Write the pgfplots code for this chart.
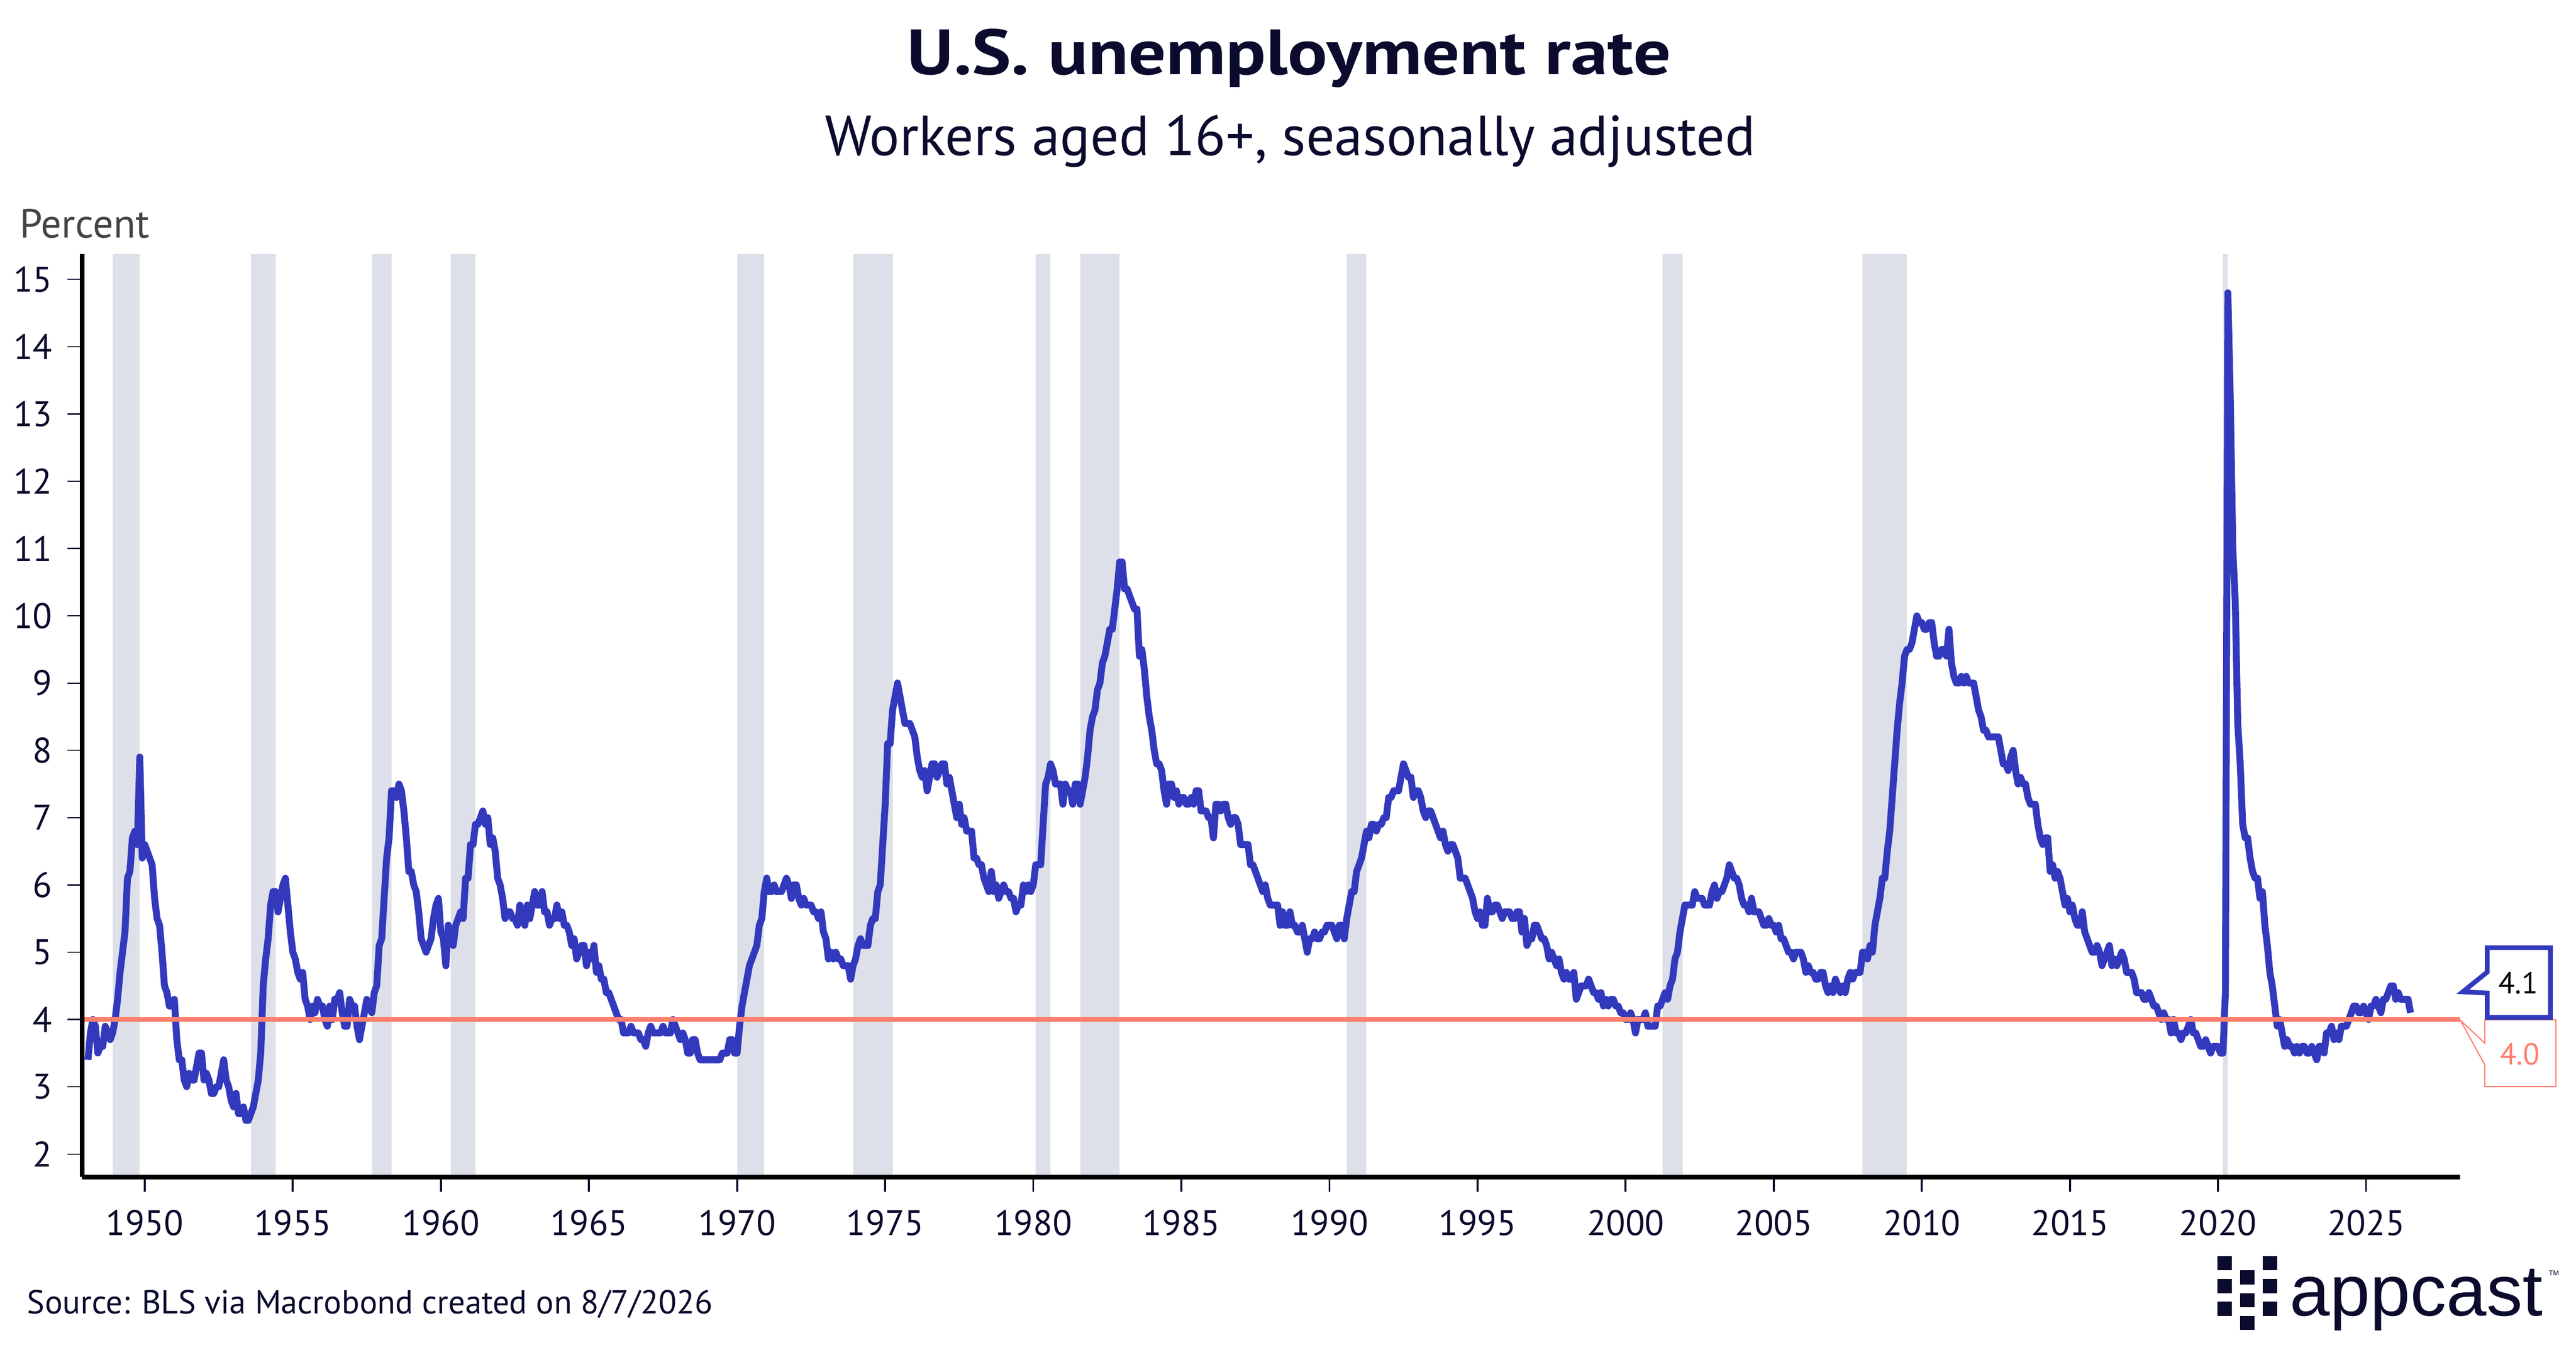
\documentclass[border=0pt]{standalone}
\usepackage{fontspec}
\setmainfont{PT Sans}
\newfontfamily\logofont{Liberation Sans}
\usepackage{pgfplots}
\pgfplotsset{compat=1.18}
\definecolor{navy}{HTML}{0A0B2D}
\definecolor{txtgray}{HTML}{444444}
\definecolor{lineblue}{HTML}{3339BD}
\definecolor{salmon}{HTML}{FF7F6E}
\definecolor{recess}{HTML}{DDE0E8}
\begin{document}
\begin{tikzpicture}[x=1bp,y=1bp]
\path[use as bounding box] (0,0) rectangle (652.5,341.8);
% titles
\node[anchor=base,inner sep=0pt,text=navy,font=\bfseries\fontsize{16.2bp}{18bp}\selectfont] at (326.5,323.0) {\scalebox{1.16}[1]{U.S. unemployment rate}};
\node[anchor=base,inner sep=0pt,text=navy,font=\fontsize{14.3bp}{17bp}\selectfont] at (326.8,302.5) {Workers aged 16+, seasonally adjusted};
\node[anchor=base west,inner sep=0pt,text=txtgray,font=\fontsize{10.3bp}{12bp}\selectfont] at (4.8,281.6) {Percent};
\node[anchor=base west,inner sep=0pt,text=navy,font=\fontsize{8.4bp}{10bp}\selectfont] at (6.7,9.1) {Source: BLS via Macrobond created on 8/7/2026};
\begin{axis}[
  at={(20.8bp,43.7bp)}, anchor=south west,
  scale only axis, width=602.3bp, height=233.8bp,
  xmin=1947.886, xmax=2028.17, ymin=1.658, ymax=15.38,
  axis x line*=bottom, axis y line*=left,
  axis line style={line width=1.1bp, black},
  axis on top,
  xtick={1950,1955,...,2025}, ytick={2,3,...,15},
  tick align=outside, major tick length=3.75bp,
  xtick style={line width=0.5bp, navy},
  ytick style={line width=0.3bp, navy},
  scaled ticks=false,
  /pgf/number format/assume math mode=true,
  /pgf/number format/1000 sep={},
  ticklabel style={font=\fontsize{9bp}{10bp}\selectfont, text=navy, inner sep=0pt},
  yticklabel style={xshift=-3.65bp},
  xticklabel style={yshift=-4.45bp},
  clip=false,
]
% recession shading
\addplot[fill=recess,draw=none] coordinates {(1948.917,1.658)(1949.833,1.658)(1949.833,15.38)(1948.917,15.38)} -- cycle;
\addplot[fill=recess,draw=none] coordinates {(1953.583,1.658)(1954.417,1.658)(1954.417,15.38)(1953.583,15.38)} -- cycle;
\addplot[fill=recess,draw=none] coordinates {(1957.667,1.658)(1958.333,1.658)(1958.333,15.38)(1957.667,15.38)} -- cycle;
\addplot[fill=recess,draw=none] coordinates {(1960.333,1.658)(1961.167,1.658)(1961.167,15.38)(1960.333,15.38)} -- cycle;
\addplot[fill=recess,draw=none] coordinates {(1970.0,1.658)(1970.917,1.658)(1970.917,15.38)(1970.0,15.38)} -- cycle;
\addplot[fill=recess,draw=none] coordinates {(1973.917,1.658)(1975.25,1.658)(1975.25,15.38)(1973.917,15.38)} -- cycle;
\addplot[fill=recess,draw=none] coordinates {(1980.083,1.658)(1980.583,1.658)(1980.583,15.38)(1980.083,15.38)} -- cycle;
\addplot[fill=recess,draw=none] coordinates {(1981.583,1.658)(1982.917,1.658)(1982.917,15.38)(1981.583,15.38)} -- cycle;
\addplot[fill=recess,draw=none] coordinates {(1990.583,1.658)(1991.25,1.658)(1991.25,15.38)(1990.583,15.38)} -- cycle;
\addplot[fill=recess,draw=none] coordinates {(2001.25,1.658)(2001.917,1.658)(2001.917,15.38)(2001.25,15.38)} -- cycle;
\addplot[fill=recess,draw=none] coordinates {(2008.0,1.658)(2009.5,1.658)(2009.5,15.38)(2008.0,15.38)} -- cycle;
\addplot[fill=recess,draw=none] coordinates {(2020.167,1.658)(2020.333,1.658)(2020.333,15.38)(2020.167,15.38)} -- cycle;
% unemployment rate, monthly from Jan 1948
\addplot[lineblue, line width=1.75bp, line join=round, line cap=butt, mark=none]
 table[row sep=\\, x expr={1948+(\coordindex+1)/12}, y index=0] {
u\\
3.4\\3.8\\4.0\\3.9\\3.5\\3.6\\3.6\\3.9\\3.8\\3.7\\3.8\\4.0\\
4.3\\4.7\\5.0\\5.3\\6.1\\6.2\\6.7\\6.8\\6.6\\7.9\\6.4\\6.6\\
6.5\\6.4\\6.3\\5.8\\5.5\\5.4\\5.0\\4.5\\4.4\\4.2\\4.2\\4.3\\
3.7\\3.4\\3.4\\3.1\\3.0\\3.2\\3.1\\3.1\\3.3\\3.5\\3.5\\3.1\\
3.2\\3.1\\2.9\\2.9\\3.0\\3.0\\3.2\\3.4\\3.1\\3.0\\2.8\\2.7\\
2.9\\2.6\\2.6\\2.7\\2.5\\2.5\\2.6\\2.7\\2.9\\3.1\\3.5\\4.5\\
4.9\\5.2\\5.7\\5.9\\5.9\\5.6\\5.8\\6.0\\6.1\\5.7\\5.3\\5.0\\
4.9\\4.7\\4.6\\4.7\\4.3\\4.2\\4.0\\4.2\\4.1\\4.3\\4.2\\4.2\\
4.0\\3.9\\4.2\\4.0\\4.3\\4.3\\4.4\\4.1\\3.9\\3.9\\4.3\\4.2\\
4.2\\3.9\\3.7\\3.9\\4.1\\4.3\\4.2\\4.1\\4.4\\4.5\\5.1\\5.2\\
5.8\\6.4\\6.7\\7.4\\7.4\\7.3\\7.5\\7.4\\7.1\\6.7\\6.2\\6.2\\
6.0\\5.9\\5.6\\5.2\\5.1\\5.0\\5.1\\5.2\\5.5\\5.7\\5.8\\5.3\\
5.2\\4.8\\5.4\\5.2\\5.1\\5.4\\5.5\\5.6\\5.5\\6.1\\6.1\\6.6\\
6.6\\6.9\\6.9\\7.0\\7.1\\6.9\\7.0\\6.6\\6.7\\6.5\\6.1\\6.0\\
5.8\\5.5\\5.6\\5.6\\5.5\\5.5\\5.4\\5.7\\5.6\\5.4\\5.7\\5.5\\
5.7\\5.9\\5.7\\5.7\\5.9\\5.6\\5.6\\5.4\\5.5\\5.5\\5.7\\5.5\\
5.6\\5.4\\5.4\\5.3\\5.1\\5.2\\4.9\\5.0\\5.1\\5.1\\4.8\\5.0\\
4.9\\5.1\\4.7\\4.8\\4.6\\4.6\\4.4\\4.4\\4.3\\4.2\\4.1\\4.0\\
4.0\\3.8\\3.8\\3.8\\3.9\\3.8\\3.8\\3.8\\3.7\\3.7\\3.6\\3.8\\
3.9\\3.8\\3.8\\3.8\\3.8\\3.9\\3.8\\3.8\\3.8\\4.0\\3.9\\3.8\\
3.7\\3.8\\3.7\\3.5\\3.5\\3.7\\3.7\\3.5\\3.4\\3.4\\3.4\\3.4\\
3.4\\3.4\\3.4\\3.4\\3.4\\3.5\\3.5\\3.5\\3.7\\3.7\\3.5\\3.5\\
3.9\\4.2\\4.4\\4.6\\4.8\\4.9\\5.0\\5.1\\5.4\\5.5\\5.9\\6.1\\
5.9\\5.9\\6.0\\5.9\\5.9\\5.9\\6.0\\6.1\\6.0\\5.8\\6.0\\6.0\\
5.8\\5.7\\5.8\\5.7\\5.7\\5.7\\5.6\\5.6\\5.5\\5.6\\5.3\\5.2\\
4.9\\5.0\\4.9\\5.0\\4.9\\4.9\\4.8\\4.8\\4.8\\4.6\\4.8\\4.9\\
5.1\\5.2\\5.1\\5.1\\5.1\\5.4\\5.5\\5.5\\5.9\\6.0\\6.6\\7.2\\
8.1\\8.1\\8.6\\8.8\\9.0\\8.8\\8.6\\8.4\\8.4\\8.4\\8.3\\8.2\\
7.9\\7.7\\7.6\\7.7\\7.4\\7.6\\7.8\\7.8\\7.6\\7.7\\7.8\\7.8\\
7.5\\7.6\\7.4\\7.2\\7.0\\7.2\\6.9\\7.0\\6.8\\6.8\\6.8\\6.4\\
6.4\\6.3\\6.3\\6.1\\6.0\\5.9\\6.2\\5.9\\6.0\\5.8\\5.9\\6.0\\
5.9\\5.9\\5.8\\5.8\\5.6\\5.7\\5.7\\6.0\\5.9\\6.0\\5.9\\6.0\\
6.3\\6.3\\6.3\\6.9\\7.5\\7.6\\7.8\\7.7\\7.5\\7.5\\7.5\\7.2\\
7.5\\7.4\\7.4\\7.2\\7.5\\7.5\\7.2\\7.4\\7.6\\7.9\\8.3\\8.5\\
8.6\\8.9\\9.0\\9.3\\9.4\\9.6\\9.8\\9.8\\10.1\\10.4\\10.8\\10.8\\
10.4\\10.4\\10.3\\10.2\\10.1\\10.1\\9.4\\9.5\\9.2\\8.8\\8.5\\8.3\\
8.0\\7.8\\7.8\\7.7\\7.4\\7.2\\7.5\\7.5\\7.3\\7.4\\7.2\\7.3\\
7.3\\7.2\\7.2\\7.3\\7.2\\7.4\\7.4\\7.1\\7.1\\7.1\\7.0\\7.0\\
6.7\\7.2\\7.2\\7.1\\7.2\\7.2\\7.0\\6.9\\7.0\\7.0\\6.9\\6.6\\
6.6\\6.6\\6.6\\6.3\\6.3\\6.2\\6.1\\6.0\\5.9\\6.0\\5.8\\5.7\\
5.7\\5.7\\5.7\\5.4\\5.6\\5.4\\5.4\\5.6\\5.4\\5.4\\5.3\\5.3\\
5.4\\5.2\\5.0\\5.2\\5.2\\5.3\\5.2\\5.2\\5.3\\5.3\\5.4\\5.4\\
5.4\\5.3\\5.2\\5.4\\5.4\\5.2\\5.5\\5.7\\5.9\\5.9\\6.2\\6.3\\
6.4\\6.6\\6.8\\6.7\\6.9\\6.9\\6.8\\6.9\\6.9\\7.0\\7.0\\7.3\\
7.3\\7.4\\7.4\\7.4\\7.6\\7.8\\7.7\\7.6\\7.6\\7.3\\7.4\\7.4\\
7.3\\7.1\\7.0\\7.1\\7.1\\7.0\\6.9\\6.8\\6.7\\6.8\\6.6\\6.5\\
6.6\\6.6\\6.5\\6.4\\6.1\\6.1\\6.1\\6.0\\5.9\\5.8\\5.6\\5.5\\
5.6\\5.4\\5.4\\5.8\\5.6\\5.6\\5.7\\5.7\\5.6\\5.5\\5.6\\5.6\\
5.6\\5.5\\5.5\\5.6\\5.6\\5.3\\5.5\\5.1\\5.2\\5.2\\5.4\\5.4\\
5.3\\5.2\\5.2\\5.1\\4.9\\5.0\\4.9\\4.8\\4.9\\4.7\\4.6\\4.7\\
4.6\\4.6\\4.7\\4.3\\4.4\\4.5\\4.5\\4.5\\4.6\\4.5\\4.4\\4.4\\
4.3\\4.4\\4.2\\4.3\\4.2\\4.3\\4.3\\4.2\\4.2\\4.1\\4.1\\4.0\\
4.0\\4.1\\4.0\\3.8\\4.0\\4.0\\4.0\\4.1\\3.9\\3.9\\3.9\\3.9\\
4.2\\4.2\\4.3\\4.4\\4.3\\4.5\\4.6\\4.9\\5.0\\5.3\\5.5\\5.7\\
5.7\\5.7\\5.7\\5.9\\5.8\\5.8\\5.8\\5.7\\5.7\\5.7\\5.9\\6.0\\
5.8\\5.9\\5.9\\6.0\\6.1\\6.3\\6.2\\6.1\\6.1\\6.0\\5.8\\5.7\\
5.7\\5.6\\5.8\\5.6\\5.6\\5.6\\5.5\\5.4\\5.4\\5.5\\5.4\\5.4\\
5.3\\5.4\\5.2\\5.2\\5.1\\5.0\\5.0\\4.9\\5.0\\5.0\\5.0\\4.9\\
4.7\\4.8\\4.7\\4.7\\4.6\\4.6\\4.7\\4.7\\4.5\\4.4\\4.5\\4.4\\
4.6\\4.5\\4.4\\4.5\\4.4\\4.6\\4.7\\4.6\\4.7\\4.7\\4.7\\5.0\\
5.0\\4.9\\5.1\\5.0\\5.4\\5.6\\5.8\\6.1\\6.1\\6.5\\6.8\\7.3\\
7.8\\8.3\\8.7\\9.0\\9.4\\9.5\\9.5\\9.6\\9.8\\10.0\\9.9\\9.9\\
9.8\\9.8\\9.9\\9.9\\9.6\\9.4\\9.4\\9.5\\9.5\\9.4\\9.8\\9.3\\
9.1\\9.0\\9.0\\9.1\\9.0\\9.1\\9.0\\9.0\\9.0\\8.8\\8.6\\8.5\\
8.3\\8.3\\8.2\\8.2\\8.2\\8.2\\8.2\\8.0\\7.8\\7.8\\7.7\\7.9\\
8.0\\7.7\\7.5\\7.6\\7.5\\7.5\\7.3\\7.2\\7.2\\7.2\\6.9\\6.7\\
6.6\\6.7\\6.7\\6.2\\6.3\\6.1\\6.2\\6.1\\5.9\\5.7\\5.8\\5.6\\
5.7\\5.5\\5.4\\5.4\\5.6\\5.3\\5.2\\5.1\\5.0\\5.0\\5.1\\5.0\\
4.8\\4.9\\5.0\\5.1\\4.8\\4.9\\4.8\\4.9\\5.0\\4.9\\4.7\\4.7\\
4.7\\4.6\\4.4\\4.4\\4.4\\4.3\\4.3\\4.4\\4.3\\4.2\\4.2\\4.1\\
4.0\\4.1\\4.0\\4.0\\3.8\\4.0\\3.8\\3.8\\3.7\\3.8\\3.8\\3.9\\
4.0\\3.8\\3.8\\3.7\\3.6\\3.6\\3.7\\3.6\\3.5\\3.6\\3.6\\3.6\\
3.5\\3.5\\4.4\\14.8\\13.2\\11.0\\10.2\\8.4\\7.8\\6.9\\6.7\\6.7\\
6.4\\6.2\\6.1\\6.1\\5.8\\5.9\\5.4\\5.1\\4.7\\4.5\\4.2\\3.9\\
4.0\\3.8\\3.6\\3.7\\3.6\\3.6\\3.5\\3.6\\3.5\\3.6\\3.6\\3.5\\
3.5\\3.6\\3.5\\3.4\\3.6\\3.6\\3.5\\3.8\\3.8\\3.9\\3.7\\3.8\\
3.7\\3.9\\3.9\\3.9\\4.0\\4.1\\4.2\\4.2\\4.1\\4.1\\4.2\\4.1\\
4.0\\4.2\\4.2\\4.3\\4.2\\4.1\\4.3\\4.3\\4.4\\4.5\\4.5\\4.3\\
4.4\\4.3\\4.3\\4.3\\4.3\\4.1\\
};
% 4.0 reference line
\addplot[salmon, line width=1.2bp, mark=none] coordinates {(1947.886,4.0)(2028.17,4.0)};
\end{axis}
% value callouts
\filldraw[fill=white, draw=salmon, line width=0.3bp, line join=miter]
 (629.4,83.5) -- (647.4,83.5) -- (647.4,66.6) -- (629.4,66.6) -- (629.4,72.1) -- (623.2,83.4) -- (629.4,77.6) -- cycle;
\node[anchor=base,inner sep=0pt,text=salmon,font=\fontsize{7.7bp}{9bp}\selectfont] at (638.3,72.1) {4.0};
\filldraw[fill=white, draw=lineblue, line width=1.2bp, line join=miter]
 (630.0,101.8) -- (646.0,101.8) -- (646.0,84.1) -- (630.0,84.1) -- (630.0,90.3) -- (623.8,90.6) -- (630.0,95.6) -- cycle;
\node[anchor=base,inner sep=0pt,text=black,font=\fontsize{7.7bp}{9bp}\selectfont] at (637.9,90.1) {4.1};
% appcast logo
\fill[navy] (561.6,23.7) rectangle (565.3,20.1);
\fill[navy] (561.6,17.9) rectangle (565.3,14.3);
\fill[navy] (561.6,12.1) rectangle (565.3,8.5);
\fill[navy] (573.2,23.7) rectangle (576.8,20.1);
\fill[navy] (573.2,17.9) rectangle (576.8,14.3);
\fill[navy] (573.2,12.1) rectangle (576.8,8.5);
\fill[navy] (567.4,20.1) rectangle (571.0,16.5);
\fill[navy] (567.4,14.3) rectangle (571.0,10.7);
\fill[navy] (567.4,8.5) rectangle (571.0,5.0);
\node[anchor=base west,inner sep=0pt,text=navy,font=\logofont\fontsize{18.3bp}{20bp}\selectfont] at (579.8,8.6) {appcast};
\node[anchor=base west,inner sep=0pt,text=navy,font=\logofont\fontsize{1.8bp}{2bp}\selectfont] at (645.4,18.8) {TM};
\end{tikzpicture}
\end{document}
